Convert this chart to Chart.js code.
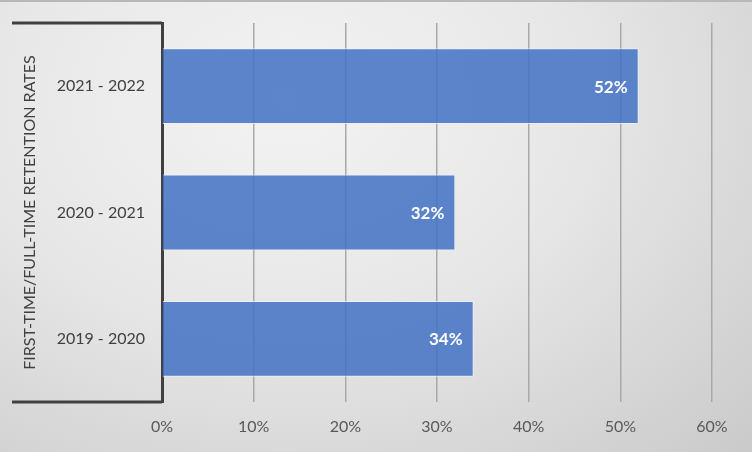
<!DOCTYPE html>
<html>
<head>
<meta charset="utf-8">
<script src="https://cdn.jsdelivr.net/npm/chart.js@4"></script>
<style>
  html, body { margin: 0; padding: 0; }
  body {
    width: 752px; height: 452px; overflow: hidden; box-sizing: border-box;
    border-top: 2px solid #b8b8b8;
    background: radial-gradient(ellipse at 38% 22%, #f3f3f3 0%, #e7e7e7 45%, #d2d2d2 85%, #cacaca 100%);
  }
  #wrap { width: 752px; height: 450px; }
</style>
</head>
<body>
<div id="wrap"><canvas id="grafico"></canvas></div>
<script>
const categorias = ['2021 - 2022', '2020 - 2021', '2019 - 2020']
const tasas = [52, 32, 34]
const ticksX = [0, 10, 20, 30, 40, 50, 60]
const tituloY = 'FIRST-TIME/FULL-TIME RETENTION RATES'

const fuente = 'Lato, "Open Sans", sans-serif'
const gris = '#404040'

// etiquetas blancas dentro del extremo de cada barra
const etiquetas = {
    id: 'etiquetas',
    afterDatasetsDraw(chart) {
        const ctx = chart.ctx
        const meta = chart.getDatasetMeta(0)
        ctx.save()
        ctx.font = 'bold 17px ' + fuente
        ctx.fillStyle = '#ffffff'
        ctx.textAlign = 'right'
        ctx.textBaseline = 'middle'
        meta.data.forEach((barra, i) => {
            ctx.fillText(tasas[i] + '%', barra.x - 11, barra.y + 1)
        })
        ctx.restore()
    }
}

// lineas oscuras arriba y abajo de la zona de categorias
const caja = {
    id: 'caja',
    afterDraw(chart) {
        const ctx = chart.ctx
        const area = chart.chartArea
        const ejeY = chart.scales.y
        ctx.save()
        ctx.strokeStyle = gris
        ctx.lineWidth = 3
        ctx.beginPath()
        ctx.moveTo(ejeY.left, area.top)
        ctx.lineTo(area.left, area.top)
        ctx.moveTo(ejeY.left, area.bottom)
        ctx.lineTo(area.left, area.bottom)
        ctx.stroke()
        ctx.restore()
    }
}

const chart = new Chart(document.querySelector('#grafico'), {
    type: 'bar',
    data: {
        labels: categorias,
        datasets: [{
            data: tasas,
            backgroundColor: 'rgba(68, 114, 196, 0.86)',
            borderColor: 'rgba(235, 241, 252, 0.8)',
            borderWidth: 1,
            barPercentage: 0.6,
            categoryPercentage: 1
        }]
    },
    options: {
        indexAxis: 'y',
        responsive: true,
        maintainAspectRatio: false,
        animation: false,
        layout: { padding: { top: 21, left: 12, right: 40, bottom: 14 } },
        plugins: {
            legend: { display: false },
            tooltip: { enabled: false }
        },
        scales: {
            x: {
                min: ticksX[0],
                max: ticksX[ticksX.length - 1],
                afterBuildTicks: (eje) => { eje.ticks = ticksX.map((v) => ({ value: v })) },
                afterFit: (eje) => { eje.height = 36 },
                grid: { color: '#a9a9a9', lineWidth: 1.5, drawTicks: false },
                border: { display: false },
                ticks: {
                    padding: 15,
                    color: '#595959',
                    font: { family: fuente, size: 16 },
                    callback: (v) => v + '%'
                }
            },
            y: {
                afterFit: (eje) => { eje.width = 150 },
                grid: { display: false },
                border: { color: gris, width: 3 },
                ticks: {
                    padding: 9,
                    color: gris,
                    font: { family: fuente, size: 16 }
                },
                title: {
                    display: true,
                    text: tituloY,
                    color: gris,
                    padding: { top: 8, bottom: 0 },
                    font: { family: fuente, size: 16 }
                }
            }
        }
    },
    plugins: [etiquetas, caja]
})
</script>
</body>
</html>
